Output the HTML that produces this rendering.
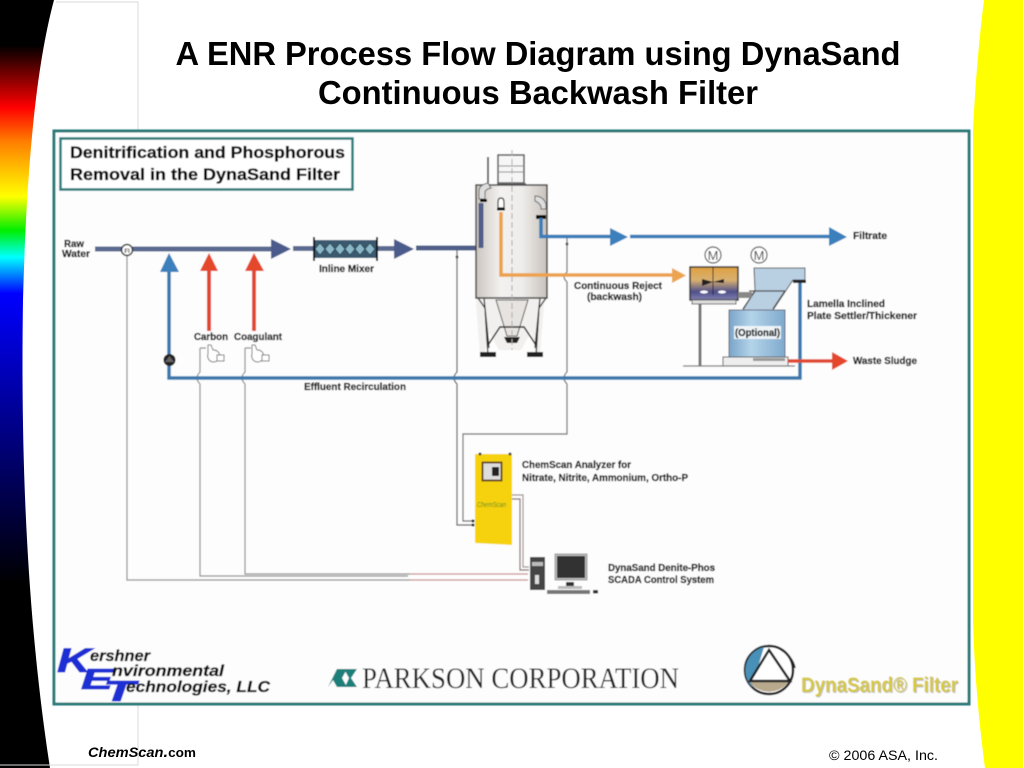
<!DOCTYPE html>
<html><head><meta charset="utf-8"><style>
html,body{margin:0;padding:0;background:#fff;width:1024px;height:768px;overflow:hidden}
svg{display:block}
text{font-family:"Liberation Sans",sans-serif}
.l{font-weight:bold;fill:#1a1a1a;font-size:10px;stroke:#1a1a1a;stroke-width:.3px}
.h{font-weight:bold;fill:#111;font-size:16.500px;stroke:#111;stroke-width:.35px}
</style></head><body>
<svg width="1024" height="768" viewBox="0 0 1024 768" xmlns="http://www.w3.org/2000/svg">
<defs>
<linearGradient id="rb" x1="0" y1="0" x2="0" y2="1">
<stop offset="0" stop-color="#000"/><stop offset=".059" stop-color="#000"/><stop offset=".085" stop-color="#500000"/>
<stop offset=".14" stop-color="#f00"/><stop offset=".185" stop-color="#ff8000"/><stop offset=".256" stop-color="#ff0"/>
<stop offset=".3" stop-color="#0e0"/><stop offset=".335" stop-color="#0ff"/><stop offset=".382" stop-color="#00f"/>
<stop offset=".55" stop-color="#00008c"/><stop offset=".76" stop-color="#000"/><stop offset="1" stop-color="#000"/>
</linearGradient>
<linearGradient id="ves" x1="0" y1="0" x2="1" y2="0"><stop offset="0" stop-color="#cbc5bf"/><stop offset=".35" stop-color="#f4f2f0"/><stop offset=".65" stop-color="#efecea"/><stop offset="1" stop-color="#c8c2bc"/></linearGradient>
<linearGradient id="tk" x1="0" y1="0" x2="0" y2="1"><stop offset="0" stop-color="#e0a040"/><stop offset=".4" stop-color="#d8b070"/><stop offset=".75" stop-color="#50508c"/><stop offset="1" stop-color="#8080b0"/></linearGradient>
<linearGradient id="bl" x1="0" y1="0" x2="1" y2="0"><stop offset="0" stop-color="#7aa5c8"/><stop offset=".4" stop-color="#b4d4ea"/><stop offset="1" stop-color="#7fa9cc"/></linearGradient>
<filter id="b"><feGaussianBlur stdDeviation="0.45"/></filter>
</defs>
<path d="M0 0H54C38 60 27 150 23 300C21 430 24 600 50 768H0Z" fill="url(#rb)"/>
<path d="M984 0H1023V768H985C978 715 974 665 973 617V132C975 85 979 40 984 0Z" fill="#ff0"/>
<path d="M56 2H138V130M138 705V765H0" fill="none" stroke="#d8d8d8" stroke-width="1"/>
<text x="538" y="65" text-anchor="middle" font-size="33" font-weight="bold" fill="#000" textLength="725" lengthAdjust="spacingAndGlyphs">A ENR Process Flow Diagram using DynaSand</text>
<text x="538" y="104" text-anchor="middle" font-size="33" font-weight="bold" fill="#000" textLength="440" lengthAdjust="spacingAndGlyphs">Continuous Backwash Filter</text>
<text x="88" y="757" font-size="14" font-weight="bold" font-style="italic" fill="#000" textLength="108" lengthAdjust="spacingAndGlyphs">ChemScan<tspan font-size="16">.</tspan><tspan font-style="normal" font-size="13">com</tspan></text>
<text x="829" y="760" font-size="13.500" fill="#000" textLength="109" lengthAdjust="spacingAndGlyphs">© 2006 ASA, Inc.</text>

<g filter="url(#b)">
<rect x="54" y="131" width="915" height="573" fill="#fdfdfd" stroke="#2b7a78" stroke-width="3"/>
<rect x="60.500" y="138.500" width="292" height="51" fill="#fff" stroke="#2b7a78" stroke-width="2.500"/>
<text class="h" x="70" y="158" textLength="275" lengthAdjust="spacingAndGlyphs">Denitrification and Phosphorous</text>
<text class="h" x="70" y="180" textLength="270" lengthAdjust="spacingAndGlyphs">Removal in the DynaSand Filter</text>

<!-- thin signal lines -->
<g fill="none" stroke="#8c8c8c" stroke-width="1.200">
<path d="M127 255V580H410"/>
<path d="M202 348V372q-3 3 -3 6q0 3 3 6V576H410" transform="translate(-2 0)"/>
<path d="M245 348V372q-3 3 -3 6q0 3 3 6V574H410"/>
<path d="M200 348h6M245 348h6"/>
<path d="M567 238V272q-3 3 -3 5q0 2 3 5V372q-3 3 -3 6q0 3 3 6V434H463V521H473" stroke="#666"/>
<path d="M457 250V372q-3 3 -3 6q0 3 3 6V525H473" stroke="#555"/>
<path d="M512 495H523V567H529" stroke="#a09090"/>
<path d="M512 499H520V570H529" stroke="#806868"/>
</g>
<path d="M410 574H528M410 580H528" stroke="#c88a90" stroke-width="1.300" fill="none"/>
<circle cx="457" cy="257" r="1.500" fill="#555"/><circle cx="567" cy="244" r="1.500" fill="#555"/>

<!-- raw water line -->
<path d="M95 249H272" stroke="#5a6a90" stroke-width="5" fill="none"/>
<path d="M271 239L291 249L271 259Z" fill="#4c5c8c"/>
<path d="M293 248.500H314M377 248.500H394" stroke="#5a6a90" stroke-width="5" fill="none"/>
<path d="M394 239L414 249L394 259Z" fill="#4c5c8c"/>
<path d="M416 248H481V203" stroke="#4f5f8a" stroke-width="5" fill="none"/>
<circle cx="127" cy="250" r="5.500" fill="#fff" stroke="#333" stroke-width="1.500"/>
<text x="127" y="253" font-size="6" font-weight="bold" text-anchor="middle" fill="#333">FI</text>
<!-- mixer -->
<rect x="315" y="240" width="62" height="18" fill="#3a5a70"/>
<path d="M315 249l5-6l5 6l-5 6zM325 249l5-6l5 6l-5 6zM335 249l5-6l5 6l-5 6zM345 249l5-6l5 6l-5 6zM355 249l5-6l5 6l-5 6zM365 249l5-6l5 6l-5 6z" fill="#8ab8c8" stroke="#24404c" stroke-width=".8"/>
<path d="M314 237V261M377 237V261" stroke="#111" stroke-width="2"/>
<text class="l" x="319" y="272" textLength="55" lengthAdjust="spacingAndGlyphs">Inline Mixer</text>
<text class="l" x="64" y="247" textLength="20" lengthAdjust="spacingAndGlyphs">Raw</text>
<text class="l" x="62" y="257" textLength="28" lengthAdjust="spacingAndGlyphs">Water</text>

<!-- recirc -->
<path d="M169 268V378H800V282" stroke="#3a78ad" stroke-width="3.500" fill="none"/>
<path d="M160 272L169 253L179 272Z" fill="#3b80bc"/>
<circle cx="169.500" cy="360" r="6" fill="#222"/><path d="M165 362l4.500-6l4.500 6z" fill="#666"/>
<!-- red -->
<path d="M209 268V331M254 268V331" stroke="#df4a30" stroke-width="4" fill="none"/>
<path d="M200 271L209 253L218 271ZM245 271L254 253L264 271Z" fill="#e4472c"/>
<text class="l" x="194" y="340" textLength="34" lengthAdjust="spacingAndGlyphs">Carbon</text>
<text class="l" x="234" y="340" textLength="48" lengthAdjust="spacingAndGlyphs">Coagulant</text>
<text class="l" x="304" y="390" textLength="102" lengthAdjust="spacingAndGlyphs">Effluent Recirculation</text>
<!-- chem pumps -->
<g fill="#fff" stroke="#777" stroke-width="1">
<path d="M208 345h3l2 5a6 6 0 1 1 -5 4z"/><rect x="217" y="355" width="7" height="6"/>
<path d="M252 345h3l2 5a6 6 0 1 1 -5 4z"/><rect x="262" y="355" width="7" height="6"/>
</g>

<!-- vessel -->
<rect x="498" y="155" width="26" height="28" fill="#f6f6f6" stroke="#555" stroke-width="1.500"/>
<path d="M498 166H524M498 172H524" stroke="#888" stroke-width="1"/>
<rect x="497" y="183" width="29" height="2.500" fill="#666"/>
<path d="M488 157V185" stroke="#666" stroke-width="2"/>
<path d="M477 298h70l-3 6l-4 50h-4l-5-22l-10 18h-22l-10-18l-5 22h-4l-4-50z" fill="#f2f0ee"/>
<path d="M496 300l11 36h10l11-36z" fill="#e6e3e0" stroke="#555" stroke-width="1"/>
<path d="M478 298l7 10l3 48M546 298l-7 10l-3 48M484 298l5 50M540 298l-5 50" stroke="#333" stroke-width="1.300" fill="none"/>
<path d="M488 345l12-18h24l12 18" stroke="#222" stroke-width="1.500" fill="none"/>
<path d="M504 337h16l-3 6h-10z" fill="#222"/>
<rect x="480" y="352" width="16" height="5" fill="#222"/><rect x="527" y="352" width="16" height="5" fill="#222"/>
<rect x="476" y="185" width="71" height="113" fill="url(#ves)" stroke="#444" stroke-width="1.500"/>
<path d="M512 150V350" stroke="#aaa" stroke-width="1" stroke-dasharray="6 3"/>
<path d="M479 199v-8q0-6 9-8l3 5q-5 1-6 4v7z" fill="#ddd" stroke="#666"/>
<rect x="480" y="199" width="7" height="3" fill="#111"/>
<path d="M546 209h-5v-2q-1-4-6-6l0-5q8 0 11 8z" fill="#ddd" stroke="#666"/>
<rect x="536" y="215" width="10" height="4" fill="#111"/>
<path d="M481 203V248" stroke="#4f5f8a" stroke-width="5" fill="none"/>
<!-- filtrate -->
<path d="M541 218V236.500H612M630 236.500H832" stroke="#3a7db8" stroke-width="3.500" fill="none"/>
<path d="M610 228L628 237L610 246ZM829 227L847 237L829 246Z" fill="#3a80bc"/>
<text class="l" x="853" y="239" textLength="34" lengthAdjust="spacingAndGlyphs">Filtrate</text>
<!-- orange -->
<path d="M501 212V275H674" stroke="#eca24f" stroke-width="3.500" fill="none"/>
<path d="M672 268L686 275.500L672 283Z" fill="#eda44f"/>
<path d="M498 202q0-4 3-4q3 0 3 4v6h-6z" fill="#fff" stroke="#222" stroke-width="1.200"/><rect x="497" y="208" width="8" height="2.500" fill="#111"/>
<text class="l" x="574" y="289" textLength="88" lengthAdjust="spacingAndGlyphs">Continuous Reject</text>
<text class="l" x="587" y="300" textLength="55" lengthAdjust="spacingAndGlyphs">(backwash)</text>
<!-- tank -->
<path d="M700 302V366" stroke="#777" stroke-width="3"/>
<rect x="690" y="267" width="48" height="33" fill="url(#tk)" stroke="#333" stroke-width="1.500"/>
<rect x="692" y="300" width="44" height="4" fill="#ddd" stroke="#666"/>
<path d="M713 267V295" stroke="#222" stroke-width="1"/>
<path d="M702 279l11 3l-11 4zM713 282l11-3v4z" fill="#222"/>
<ellipse cx="704" cy="292" rx="4" ry="1.500" fill="#fff"/><ellipse cx="722" cy="292" rx="4" ry="1.500" fill="#fff"/>
<circle cx="713" cy="255" r="8" fill="#fff" stroke="#555" stroke-width="1.200"/><text x="713" y="260" text-anchor="middle" font-size="13" fill="#444">M</text>
<circle cx="759" cy="255" r="8" fill="#fff" stroke="#555" stroke-width="1.200"/><text x="759" y="260" text-anchor="middle" font-size="13" fill="#444">M</text>
<!-- lamella -->
<path d="M754 268H805V280H793L773 310H743L755 290Z" fill="#b9cfe2" stroke="#555" stroke-width="1"/>
<path d="M749 291H785M743 309L755 291M773 309L785 291" stroke="#444" stroke-width="1.300"/>
<rect x="738" y="292" width="14" height="6" fill="#888"/>
<rect x="793" y="280" width="13" height="3" fill="#222"/>
<rect x="729" y="310" width="56" height="50" fill="url(#bl)" stroke="#667" stroke-width="1"/>
<rect x="734" y="326" width="47" height="13" fill="#eef4f8"/>
<text class="l" x="735" y="336" textLength="45" lengthAdjust="spacingAndGlyphs">(Optional)</text>
<rect x="723" y="357" width="65" height="9" fill="#eee" stroke="#555" stroke-width="1"/>
<rect x="753" y="358" width="32" height="3" fill="#999"/>
<path d="M683 366H795" stroke="#777" stroke-width="1.200"/>
<path d="M788 361H834" stroke="#df4a30" stroke-width="3.500"/>
<path d="M832 352L848 361L832 370Z" fill="#e4472c"/>
<text class="l" x="853" y="364" textLength="64" lengthAdjust="spacingAndGlyphs">Waste Sludge</text>
<text class="l" x="807" y="307" textLength="78" lengthAdjust="spacingAndGlyphs">Lamella Inclined</text>
<text class="l" x="807" y="319" textLength="110" lengthAdjust="spacingAndGlyphs">Plate Settler/Thickener</text>
<!-- analyzer -->
<path d="M475 454H512V545L475 543Z" fill="#f5d210"/>
<rect x="482.500" y="462.500" width="19" height="18" fill="#ddd" stroke="#6a4a20" stroke-width="2"/>
<rect x="492" y="467" width="7" height="9" fill="#222"/>
<text x="477" y="507" font-size="7" font-style="italic" fill="#5a8a20" textLength="29" lengthAdjust="spacingAndGlyphs">ChemScan</text>
<circle cx="473" cy="521" r="1.500" fill="#222"/><circle cx="473" cy="525" r="1.500" fill="#222"/>
<circle cx="480" cy="454" r="1.500" fill="#444"/><circle cx="510" cy="454" r="1.500" fill="#444"/>
<text class="l" x="522" y="468" textLength="109" lengthAdjust="spacingAndGlyphs">ChemScan Analyzer for</text>
<text class="l" x="522" y="481" textLength="166" lengthAdjust="spacingAndGlyphs">Nitrate, Nitrite, Ammonium, Ortho-P</text>
<!-- computer -->
<rect x="530" y="557" width="15" height="33" fill="#444"/>
<rect x="532" y="562" width="11" height="4" fill="#bbb"/><rect x="535" y="575" width="4" height="9" fill="#ddd"/>
<rect x="555" y="554" width="32" height="26" fill="#bbb" stroke="#999"/>
<rect x="557" y="556" width="28" height="22" fill="#333"/>
<rect x="566" y="582" width="8" height="5" fill="#333"/><rect x="558" y="586" width="24" height="3" fill="#bbb"/>
<rect x="547" y="590" width="43" height="4" fill="#777"/>
<rect x="593" y="590" width="5" height="3.500" fill="#333"/>
<text class="l" x="608" y="571" textLength="107" lengthAdjust="spacingAndGlyphs">DynaSand Denite-Phos</text>
<text class="l" x="608" y="583" textLength="106" lengthAdjust="spacingAndGlyphs">SCADA Control System</text>

<!-- logos -->
<g font-style="italic" font-weight="bold" fill="#1a2ed4" stroke="#1a2ed4" stroke-width=".8">
<text x="57" y="672" font-size="34" textLength="34" lengthAdjust="spacingAndGlyphs">K</text>
<text x="81" y="689" font-size="29" textLength="32" lengthAdjust="spacingAndGlyphs">E</text>
<text x="103" y="701" font-size="29" textLength="32" lengthAdjust="spacingAndGlyphs">T</text>
</g>
<g font-style="italic" font-weight="bold" fill="#111" stroke="#111" stroke-width=".3" font-size="16">
<text x="90" y="661" textLength="60" lengthAdjust="spacingAndGlyphs">ershner</text>
<text x="112" y="676" textLength="112" lengthAdjust="spacingAndGlyphs">nvironmental</text>
<text x="126" y="692" textLength="144" lengthAdjust="spacingAndGlyphs">echnologies, LLC</text>
</g>
<path d="M328 687L337 669H347L342 678L347 687H337L333 680Z" fill="#1f7f7a"/>
<path d="M344 669H357L351 678L357 687H345L349 678Z" fill="#1f7f7a"/>
<text x="362" y="688" font-size="30" fill="#222" style="font-family:'Liberation Serif',serif" textLength="317" lengthAdjust="spacingAndGlyphs">PARKSON CORPORATION</text>
<circle cx="769" cy="670" r="24" fill="#fff" stroke="#222" stroke-width="2.500"/>
<path d="M752 687A24 24 0 0 1 764 647Z" fill="#4a90b8"/>
<path d="M749 681H789A24 24 0 0 1 749 681Z" fill="#b8a88c"/>
<path d="M769 650L790 681H750Z" fill="#fff" stroke="#222" stroke-width="2.500"/>
<path d="M781 650A26 26 0 0 1 795 668" fill="none" stroke="#222" stroke-width="1.500"/>
<text x="802" y="693" font-size="21" font-weight="bold" fill="#999" opacity=".6" textLength="157" lengthAdjust="spacingAndGlyphs">DynaSand® Filter</text>
<text x="801" y="692" font-size="21" font-weight="bold" fill="#d6c83c" textLength="157" lengthAdjust="spacingAndGlyphs">DynaSand® Filter</text>
</g>
</svg>
</body></html>
